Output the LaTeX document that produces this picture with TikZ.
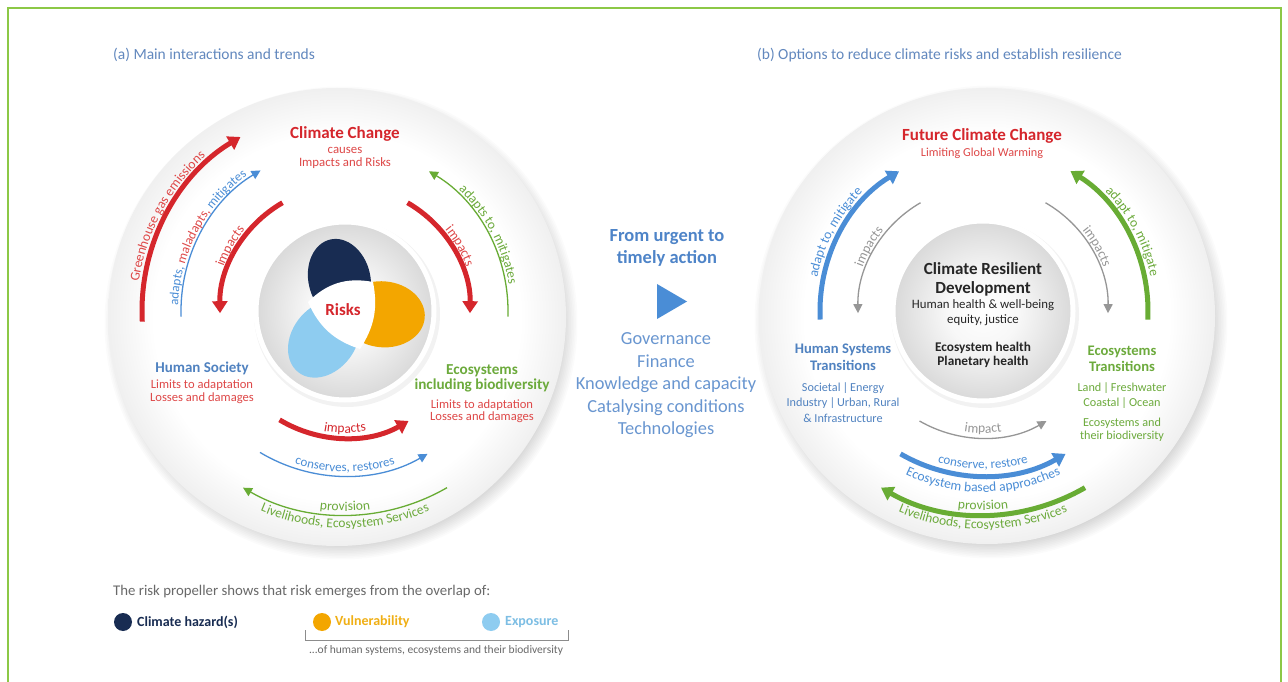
\documentclass[tikz,border=0pt]{standalone}
\usepackage{fontspec}
\setmainfont{Carlito}
\usepackage{tikz}
\usetikzlibrary{arrows.meta,shapes.geometric,decorations.text}
\usepackage{xcolor}
\definecolor{ipred}{RGB}{213,38,44}
\definecolor{ipredlt}{RGB}{222,72,72}
\definecolor{hblue}{RGB}{74,141,214}
\definecolor{hbluetx}{RGB}{80,130,192}
\definecolor{actblue}{RGB}{78,132,200}
\definecolor{egreen}{RGB}{104,172,52}
\definecolor{egreentx}{RGB}{108,170,60}
\definecolor{imgray}{RGB}{150,150,150}
\definecolor{hazard}{RGB}{24,44,82}
\definecolor{vuln}{RGB}{243,166,0}
\definecolor{vulntx}{RGB}{240,175,20}
\definecolor{expo}{RGB}{142,204,240}
\definecolor{expotx}{RGB}{125,190,228}
\definecolor{framegreen}{RGB}{140,200,70}
\definecolor{titleblue}{RGB}{98,136,190}
\definecolor{legtx}{RGB}{105,105,105}

\pgfdeclareradialshading{bigdisc}{\pgfpoint{0bp}{0bp}}{color(0bp)=(white); color(20bp)=(white); color(25bp)=(black!6); color(50bp)=(black!6)}
\pgfdeclareradialshading{hubdisc}{\pgfpoint{0bp}{0bp}}{color(0bp)=(white); color(10bp)=(black!3); color(25bp)=(black!15); color(50bp)=(black!15)}

\newcommand{\fs}[2]{\fontsize{#1}{#2}\selectfont}
\newcommand{\arcfont}{\fs{13.5}{13.5}}
% curved label: centre, start angle, end angle, radius, text
\newcommand{\arclabel}[5]{%
  \path[decorate, decoration={text along path, text align=center, text={#5}}]
    ([shift={(#2:#4)}]#1) arc[start angle=#2, end angle=#3, radius=#4];}

\begin{document}
\begin{tikzpicture}[
    x=1pt, y=1pt,
    lbl/.style={align=center, inner sep=0pt},
    thickarc/.style={line width=5pt, -{Triangle[width=15pt,length=12pt]}},
    thinarc/.style={line width=1.3pt, -{Triangle[width=9pt,length=9pt]}},
    leaf/.style={ellipse, inner sep=0pt, draw=none},
    dot/.style={circle, inner sep=0pt, minimum size=18pt},
  ]
  \useasboundingbox (0,0) rectangle (1288,681);
  \fill[white] (0,0) rectangle (1288,681);
  \draw[framegreen, line width=2pt] (8,-4) -- (8,673) -- (1281,673) -- (1281,-4);

  \coordinate (bgL) at (337,364);
  \coordinate (bgR) at (987,365);
  \coordinate (cL) at (345,370);
  \coordinate (cR) at (983,370);

  % titles
  \node[lbl, anchor=west, font=\fs{15.5}{16}, text=titleblue] (ta) at (113,626)
    {(a) Main interactions and trends};
  \node[lbl, anchor=west, font=\fs{15.5}{16}, text=titleblue] (tb) at (757,626)
    {(b) Options to reduce climate risks and establish resilience};

  % discs
  \foreach \k in {0,...,9} {
    \fill[black, opacity=0.016] ([shift={(4,-6)}]bgL) circle ({222+1.6*\k});
    \fill[black, opacity=0.016] ([shift={(4,-6)}]bgR) circle ({222+1.6*\k});
  }
  \shade[shading=bigdisc] (bgL) circle (229);
  \shade[shading=bigdisc] (bgR) circle (228);
  \fill[black, opacity=0.05] ([shift={(2,-3)}]cL) circle (93);
  \fill[black, opacity=0.05] ([shift={(2,-3)}]cR) circle (94);
  \shade[shading=hubdisc] (cL) circle (89);
  \shade[shading=hubdisc] (cR) circle (90);
  \draw[white, line width=5pt] (cL) circle (89);
  \draw[white, line width=5pt] (cR) circle (90);

  % ---------------- (a) main interactions ----------------
  \node[lbl, font=\bfseries\fs{17}{17}, text=ipred] (cc) at (345,547) {Climate Change};
  \node[lbl, font=\fs{12.8}{13}, text=ipredlt] (ccsub) at (345,523.5) {causes\\Impacts and Risks};

  \node[lbl, font=\bfseries\fs{15}{16}, text=hbluetx] (hs) at (202,313) {Human Society};
  \node[lbl, font=\fs{12.6}{13}, text=ipredlt] (hslim) at (202,289.5) {Limits to adaptation\\Losses and damages};
  \node[lbl, font=\bfseries\fs{15.2}{15}, text=egreentx] (eco) at (482,302.5) {Ecosystems\\including biodiversity};
  \node[lbl, font=\fs{12.6}{12.5}, text=ipredlt] (ecolim) at (482,270) {Limits to adaptation\\Losses and damages};

  % risk propeller
  \node[leaf, fill=hazard, minimum width=82, minimum height=62, rotate=103] (hazL) at ([shift={(100:32)}]cL) {};
  \node[leaf, fill=vuln, minimum width=84, minimum height=66, rotate=-5] (vulL) at ([shift={(-5:38)}]cL) {};
  \node[leaf, fill=expo, minimum width=84, minimum height=64, rotate=233] (expL) at ([shift={(233:35)}]cL) {};
  \fill[white] ([shift={(-37,9)}]cL) to[bend left=28] ([shift={(28,29)}]cL)
    to[bend left=22] ([shift={(15,-38)}]cL) to[bend left=24] ([shift={(-37,9)}]cL) -- cycle;
  \node[lbl, font=\bfseries\fs{17}{17}, text=ipred] (risks) at (343,371) {Risks};

  % left side arcs
  \draw[thickarc, ipred] ([shift={(183:203)}]cL) arc[start angle=183, end angle=121, radius=203];
  \arclabel{cL}{190}{114}{208}{|\arcfont\color{ipredlt}|Greenhouse gas emissions}
  \draw[thinarc, hblue] ([shift={(182:164)}]cL) arc[start angle=182, end angle=121, radius=164];
  \arclabel{cL}{190}{114}{167}{|\fs{13}{13}\color{hblue}|adapts, |\fs{13}{13}\color{ipredlt}|maladapts, |\fs{13}{13}\color{hblue}|mitigates}
  \draw[thickarc, ipred] ([shift={(120:125)}]cL) arc[start angle=120, end angle=181, radius=125];
  \arclabel{cL}{181}{120}{129}{|\arcfont\color{ipredlt}|impacts}

  % right side arcs
  \draw[thickarc, ipred] ([shift={(60:125)}]cL) arc[start angle=60, end angle=-1, radius=125];
  \arclabel{cL}{60}{-1}{129}{|\arcfont\color{ipredlt}|impacts}
  \draw[thinarc, egreen] ([shift={(-2:163)}]cL) arc[start angle=-2, end angle=59, radius=163];
  \arclabel{cL}{64}{-8}{166}{|\arcfont\color{egreentx}|adapts to, mitigates}

  % bottom arcs
  \draw[thickarc, ipred] ([shift={(239:127)}]cL) arc[start angle=239, end angle=300, radius=127];
  \arclabel{cL}{235}{305}{122}{|\arcfont\color{ipred}|impacts}
  \draw[thinarc, hblue] ([shift={(239:165)}]cL) arc[start angle=239, end angle=300, radius=165];
  \arclabel{cL}{235}{305}{161}{|\fs{13}{13}\color{hblue}|conserves, restores}
  \draw[thinarc, egreen] ([shift={(300:204)}]cL) arc[start angle=300, end angle=240, radius=204];
  \arclabel{cL}{235}{305}{200}{|\arcfont\color{egreentx}|provision}
  \arclabel{cL}{230}{310}{217}{|\arcfont\color{egreentx}|Livelihoods, Ecosystem Services}

  % ---------------- middle ----------------
  \node[lbl, font=\bfseries\fs{18.5}{22}, text=actblue] (urgent) at (667,433) {From urgent to\\timely action};
  \fill[hblue] (657,397) -- (657,362) -- (687,379.5) -- cycle;
  \node[lbl, font=\fs{18.4}{22.5}, text=actblue!85] (enablers) at (666,295.5)
    {Governance\\Finance\\Knowledge and capacity\\Catalysing conditions\\Technologies};

  % ---------------- (b) options ----------------
  \node[lbl, font=\bfseries\fs{17}{17}, text=ipred] (fcc) at (982,545) {Future Climate Change};
  \node[lbl, font=\fs{12.2}{13}, text=ipredlt] (fccsub) at (982,528) {Limiting Global Warming};

  \node[lbl, font=\bfseries\fs{17}{19}, text=black!85] (crd) at (983,401.5) {Climate Resilient\\Development};
  \node[lbl, font=\fs{12.8}{15}, text=black!85] (crdh) at (983,368.5) {Human health \& well-being\\equity, justice};
  \node[lbl, font=\bfseries\fs{13.3}{14}, text=black!85] (crde) at (983,326) {Ecosystem health\\Planetary health};

  \node[lbl, font=\bfseries\fs{14.6}{17}, text=hbluetx] (hst) at (843,323.5) {Human Systems\\Transitions};
  \node[lbl, font=\fs{12.2}{15.5}, text=hbluetx] (hsx) at (843,278.5) {Societal{\,}|{\,}Energy\\Industry{\,}|{\,}Urban, Rural\\\& Infrastructure};
  \node[lbl, font=\bfseries\fs{14.6}{16}, text=egreentx] (est) at (1122,322) {Ecosystems\\Transitions};
  \node[lbl, font=\fs{12.2}{15}, text=egreentx] (esx) at (1122,285.5) {Land{\,}|{\,}Freshwater\\Coastal{\,}|{\,}Ocean};
  \node[lbl, font=\fs{12.2}{13}, text=egreentx] (esb) at (1122,251.5) {Ecosystems and\\their biodiversity};

  % left side arcs
  \draw[thickarc, hblue] ([shift={(183:163)}]cR) arc[start angle=183, end angle=121, radius=163];
  \arclabel{cR}{190}{114}{169}{|\arcfont\color{hblue}|adapt to, mitigate}
  \draw[thinarc, imgray] ([shift={(120:125)}]cR) arc[start angle=120, end angle=181, radius=125];
  \arclabel{cR}{181}{120}{128}{|\arcfont\color{imgray}|impacts}

  % right side arcs
  \draw[thinarc, imgray] ([shift={(60:125)}]cR) arc[start angle=60, end angle=-1, radius=125];
  \arclabel{cR}{60}{-1}{128}{|\arcfont\color{imgray}|impacts}
  \draw[thickarc, egreen] ([shift={(-3:165)}]cR) arc[start angle=-3, end angle=58, radius=165];
  \arclabel{cR}{66}{-10}{171}{|\arcfont\color{egreentx}|adapt to, mitigate}

  % bottom arcs
  \draw[thinarc, imgray] ([shift={(240:127)}]cR) arc[start angle=240, end angle=300, radius=127];
  \arclabel{cR}{235}{305}{122}{|\arcfont\color{imgray}|impact}
  \draw[thickarc, hblue] ([shift={(240:165)}]cR) arc[start angle=240, end angle=300, radius=165];
  \arclabel{cR}{235}{305}{158}{|\fs{13}{13}\color{hblue}|conserve, restore}
  \arclabel{cR}{230}{310}{181}{|\arcfont\color{hblue}|Ecosystem based approaches}
  \draw[thickarc, egreen] ([shift={(300:204)}]cR) arc[start angle=300, end angle=240, radius=204];
  \arclabel{cR}{235}{305}{199}{|\arcfont\color{egreentx}|provision}
  \arclabel{cR}{230}{310}{218}{|\arcfont\color{egreentx}|Livelihoods, Ecosystem Services}

  % ---------------- legend ----------------
  \node[lbl, anchor=west, font=\fs{14.8}{15}, text=legtx] (legtitle) at (113,89)
    {The risk propeller shows that risk emerges from the overlap of:};
  \node[dot, fill=hazard] (dhaz) at (123,59) {};
  \node[lbl, anchor=west, font=\bfseries\fs{14}{14}, text=hazard] (lhaz) at (137,59) {Climate hazard(s)};
  \node[dot, fill=vuln] (dvul) at (322,59) {};
  \node[lbl, anchor=west, font=\bfseries\fs{14}{14}, text=vulntx] (lvul) at (335,59) {Vulnerability};
  \node[dot, fill=expo] (dexp) at (491,59) {};
  \node[lbl, anchor=west, font=\bfseries\fs{14}{14}, text=expotx] (lexp) at (505,59) {Exposure};
  \draw[black!45, line width=0.8pt] (305,51) -- (305,41) -- (568,41) -- (568,51);
  \node[lbl, font=\fs{11.5}{11.5}, text=legtx] (lof) at (436,31)
    {...of human systems, ecosystems and their biodiversity};
\end{tikzpicture}
\end{document}
